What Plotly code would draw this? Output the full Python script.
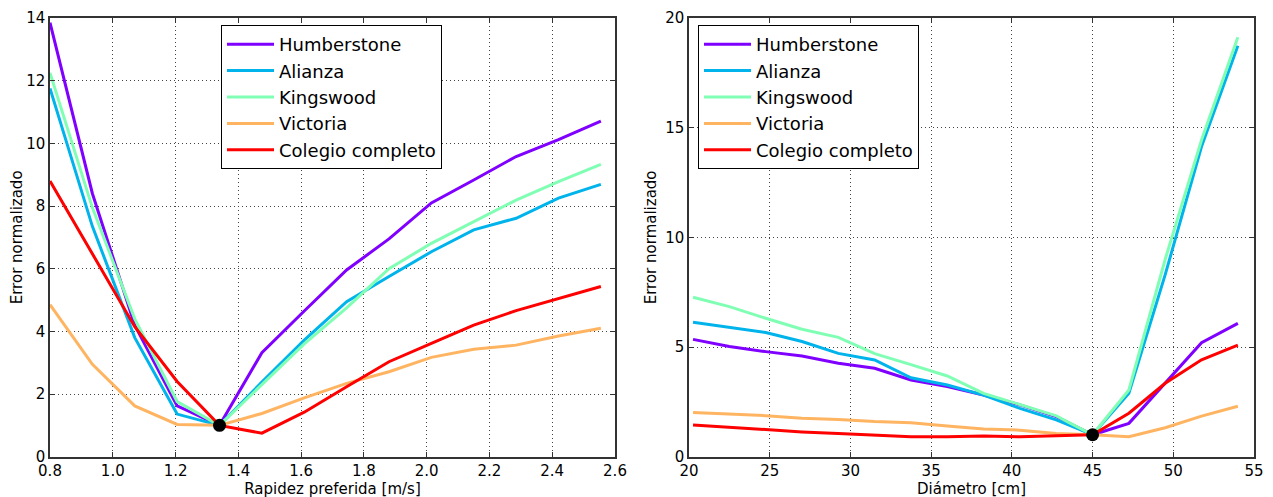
import plotly.graph_objects as go

# ---------------- data ----------------
series_names = ["Humberstone", "Alianza", "Kingswood", "Victoria", "Colegio completo"]
series_colors = ["#8000ff", "#00b4eb", "#80ffb4", "#ffb462", "#ff0000"]

speed_x = [0.80, 0.935, 1.07, 1.205, 1.34, 1.475, 1.61, 1.745, 1.88, 2.015, 2.15, 2.285, 2.42, 2.555]
speed_humberstone = [13.85, 8.4, 4.2, 1.62, 1.0, 3.32, 4.65, 5.96, 6.95, 8.1, 8.83, 9.58, 10.12, 10.71]
speed_alianza = [11.75, 7.35, 3.8, 1.36, 1.0, 2.38, 3.72, 4.95, 5.75, 6.54, 7.24, 7.61, 8.25, 8.69]
speed_kingswood = [12.25, 7.95, 4.4, 1.76, 1.0, 2.3, 3.6, 4.75, 6.0, 6.81, 7.5, 8.19, 8.78, 9.33]
speed_victoria = [4.85, 2.95, 1.62, 1.03, 1.0, 1.38, 1.88, 2.34, 2.71, 3.17, 3.43, 3.56, 3.85, 4.1]
speed_colegio = [8.8, 6.49, 4.15, 2.4, 1.0, 0.75, 1.42, 2.23, 3.03, 3.62, 4.2, 4.66, 5.05, 5.43]
speed_opt_x = [1.34]
speed_opt_y = [1.0]

diam_x = [20.25, 22.5, 24.75, 27.0, 29.25, 31.5, 33.75, 36.0, 38.25, 40.5, 42.75, 45.0, 47.25, 49.5, 51.75, 54.0]
diam_humberstone = [5.35, 5.02, 4.79, 4.59, 4.26, 4.03, 3.5, 3.2, 2.81, 2.36, 1.83, 1.0, 1.52, 3.36, 5.2, 6.08]
diam_alianza = [6.13, 5.9, 5.66, 5.25, 4.71, 4.41, 3.6, 3.27, 2.81, 2.2, 1.68, 1.0, 2.89, 8.3, 14.14, 18.73]
diam_kingswood = [7.27, 6.84, 6.31, 5.81, 5.44, 4.7, 4.2, 3.68, 2.89, 2.36, 1.86, 1.0, 3.04, 9.0, 14.44, 19.12]
diam_victoria = [2.02, 1.95, 1.87, 1.75, 1.7, 1.6, 1.55, 1.4, 1.26, 1.21, 1.06, 1.0, 0.91, 1.32, 1.85, 2.3]
diam_colegio = [1.45, 1.34, 1.22, 1.13, 1.06, 0.99, 0.91, 0.91, 0.94, 0.91, 0.94, 1.0, 1.98, 3.35, 4.42, 5.09]
diam_opt_x = [45.0]
diam_opt_y = [1.0]

speed_series = [speed_humberstone, speed_alianza, speed_kingswood, speed_victoria, speed_colegio]
diam_series = [diam_humberstone, diam_alianza, diam_kingswood, diam_victoria, diam_colegio]

FONT = "DejaVu Sans"
W, H = 1273, 497
OFF = 8  # page body margin in the browser

fig = go.Figure()

for i, (name, col) in enumerate(zip(series_names, series_colors)):
    fig.add_trace(go.Scatter(
        x=speed_x, y=speed_series[i], mode="lines", name=name,
        line=dict(color=col, width=3), xaxis="x", yaxis="y",
        legend="legend", legendgroup="a%d" % i,
    ))
fig.add_trace(go.Scatter(
    x=speed_opt_x, y=speed_opt_y, mode="markers", showlegend=False,
    marker=dict(color="black", size=13), xaxis="x", yaxis="y",
))

for i, (name, col) in enumerate(zip(series_names, series_colors)):
    fig.add_trace(go.Scatter(
        x=diam_x, y=diam_series[i], mode="lines", name=name,
        line=dict(color=col, width=3), xaxis="x2", yaxis="y2",
        legend="legend2", legendgroup="b%d" % i,
    ))
fig.add_trace(go.Scatter(
    x=diam_opt_x, y=diam_opt_y, mode="markers", showlegend=False,
    marker=dict(color="black", size=13), xaxis="x2", yaxis="y2",
))

def px_x(p):
    return (p - OFF) / W

def px_y(p):
    return 1 - (p - OFF) / H

axis_common = dict(
    showline=True, linecolor="#333333", linewidth=1.5, mirror="ticks",
    ticks="inside", ticklen=5, tickcolor="#333333",
    showgrid=True, gridcolor="#444444", gridwidth=1, griddash="1px,3px",
    zeroline=False, automargin=False,
    tickfont=dict(family=FONT, size=15, color="black"),
)

legend_common = dict(
    xanchor="left", yanchor="top",
    bgcolor="white", bordercolor="black", borderwidth=1,
    font=dict(family=FONT, size=18, color="black"),
    traceorder="grouped", tracegroupgap=0, itemwidth=47,
)

fig.update_layout(
    width=W, height=H, template="none",
    paper_bgcolor="white", plot_bgcolor="white",
    margin=dict(l=0, r=0, t=0, b=0),
    font=dict(family=FONT, color="black"),
    xaxis=dict(domain=[px_x(50), px_x(615)], range=[0.8, 2.6], dtick=0.2, tick0=0.8,
               tickformat=".1f", anchor="y",
               title=dict(text="Rapidez preferida [m/s]", font=dict(family=FONT, size=15), standoff=4),
               **axis_common),
    yaxis=dict(domain=[px_y(456.7), px_y(18)], range=[0, 14], dtick=2, anchor="x",
               title=dict(text="Error normalizado", font=dict(family=FONT, size=15), standoff=5),
               **axis_common),
    xaxis2=dict(domain=[px_x(689), px_x(1254)], range=[20, 55], dtick=5, anchor="y2",
                title=dict(text="Diámetro [cm]", font=dict(family=FONT, size=15), standoff=4),
                **axis_common),
    yaxis2=dict(domain=[px_y(456.7), px_y(18)], range=[0, 20], dtick=5, anchor="x2",
                title=dict(text="Error normalizado", font=dict(family=FONT, size=15), standoff=5),
                **axis_common),
    legend=dict(x=px_x(221), y=px_y(25), **legend_common),
    legend2=dict(x=px_x(698), y=px_y(25), **legend_common),
)

fig.write_html("out.html")
